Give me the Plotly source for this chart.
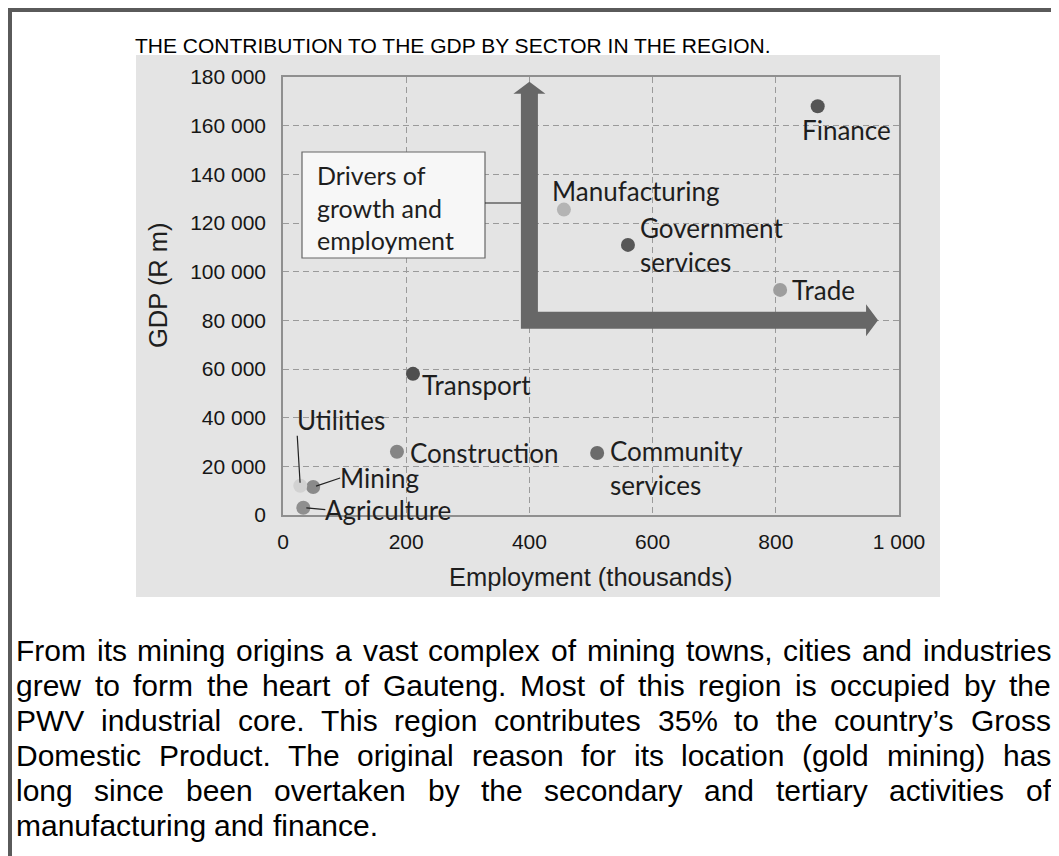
import plotly.graph_objects as go

# ---- data ----
sectors = ["Finance", "Manufacturing", "Government services", "Trade", "Transport",
           "Construction", "Community services", "Mining", "Utilities", "Agriculture"]
employment = [868, 456, 560, 807, 211, 185, 510, 49, 28, 33]          # thousands
gdp = [168000, 125500, 111000, 92500, 58000, 26000, 25500, 11500, 12000, 3000]  # R m
dot_colors = ["#555555", "#b4b4b4", "#575757", "#9d9d9d", "#4f4f4f",
              "#858585", "#6b6b6b", "#8a8a8a", "#d2d2d2", "#8f8f8f"]

x_ticks = [0, 200, 400, 600, 800, 1000]
y_ticks = [0, 20000, 40000, 60000, 80000, 100000, 120000, 140000, 160000, 180000]

title_text = "THE CONTRIBUTION TO THE GDP BY SECTOR IN THE REGION."
callout_text = "Drivers of<br>growth and<br>employment"
paragraph = [
    "From its mining origins a vast complex of mining towns, cities and industries",
    "grew to form the heart of Gauteng. Most of this region is occupied by the",
    "PWV industrial core. This region contributes 35% to the country’s Gross",
    "Domestic Product. The original reason for its location (gold mining) has",
    "long since been overtaken by the secondary and tertiary activities of",
    "manufacturing and finance.",
]

# ---- page geometry (pixels of the 1059x856 page) ----
W, H = 1059, 856
BODY = 8                       # default page margin around the plotly div
PL, PR, PT, PB = 283, 899, 77, 515
X_RANGE = [0, 1000]
Y_RANGE = [0, 180000]
DX = (X_RANGE[1] - X_RANGE[0]) / (PR - PL)   # data units per px
DY = (Y_RANGE[1] - Y_RANGE[0]) / (PB - PT)

ARIAL = "Liberation Sans, Arial, sans-serif"
LATO = "Lato, Noto Sans, sans-serif"
LABEL_FONT = dict(family=LATO, size=26, color="#1e1e1e")


def paper_x(px):
    return (px - PL) / (PR - PL)


def paper_y(py):
    return (PB - py) / (PB - PT)


# Arial advance widths (per 1000 em), used to justify the paragraph
CHAR_W = {}
for w, chars in [(222, "ijl’"), (278, " ,.tfI"), (333, "()-r"), (500, "cksvxyzJ"),
                 (556, "abdeghnopqu0123456789L"), (611, "FTZ"), (667, "ABEKPSVXY"),
                 (722, "CDHNRUw"), (778, "GOQ"), (833, "mM"), (889, "%"), (944, "W")]:
    for ch in chars:
        CHAR_W[ch] = w


def text_w(s, size):
    return sum(CHAR_W.get(c, 556) for c in s) * size / 1000


fig = go.Figure()

fig.add_trace(go.Scatter(
    x=employment, y=gdp, mode="markers",
    marker=dict(size=14, color=dot_colors, line=dict(width=0)),
    text=sectors, hoverinfo="text", showlegend=False,
))

annotations = []

# point labels
label_text = {"Government services": "Government<br>services",
              "Community services": "Community<br>services"}
label_pos = {
    "Finance": dict(xshift=-16, yshift=-24),
    "Manufacturing": dict(xshift=-12, yshift=19),
    "Government services": dict(xshift=12, yshift=0),
    "Trade": dict(xshift=12, yshift=0),
    "Transport": dict(xshift=9, yshift=-11),
    "Construction": dict(xshift=13, yshift=-1),
    "Community services": dict(xshift=13, yshift=-15),
}
leaders = {
    "Mining": dict(ax=27, ay=-9, yanchor="middle"),
    "Agriculture": dict(ax=22, ay=2, yanchor="middle"),
    "Utilities": dict(ax=-3, ay=-50, yanchor="bottom"),
}
for name, xv, yv in zip(sectors, employment, gdp):
    txt = label_text.get(name, name)
    if name in label_pos:
        annotations.append(dict(x=xv, y=yv, xref="x", yref="y", text=txt, showarrow=False,
                                xanchor="left", yanchor="middle", align="left",
                                borderpad=0, borderwidth=0,
                                font=LABEL_FONT, **label_pos[name]))
    else:
        annotations.append(dict(x=xv, y=yv, xref="x", yref="y", text=txt, showarrow=True,
                                arrowhead=0, arrowwidth=1.2, arrowcolor="#222",
                                standoff=3, xanchor="left", align="left",
                                borderpad=0, borderwidth=0,
                                font=LABEL_FONT, **leaders[name]))

# callout text (box and leader drawn as shapes below)
annotations.append(dict(x=paper_x(317), y=paper_y(207), xref="paper", yref="paper",
                        text=callout_text, showarrow=False, xanchor="left", yanchor="middle",
                        align="left", borderpad=0, borderwidth=0,
                        font=dict(family=LATO, size=25, color="#1e1e1e")))

# axis titles
annotations.append(dict(x=paper_x(590), y=paper_y(577), xref="paper", yref="paper",
                        text="Employment (thousands)", showarrow=False,
                        xanchor="center", yanchor="middle",
                        font=dict(family=ARIAL, size=25.5, color="#1e1e1e")))
annotations.append(dict(x=paper_x(158), y=paper_y(285), xref="paper", yref="paper",
                        text="GDP (R m)", textangle=-90, showarrow=False,
                        xanchor="center", yanchor="middle",
                        font=dict(family=ARIAL, size=25.5, color="#1e1e1e")))

# page title
annotations.append(dict(x=paper_x(453), y=paper_y(45), xref="paper", yref="paper",
                        text=title_text, showarrow=False, xanchor="center", yanchor="middle",
                        font=dict(family=ARIAL, size=21, color="#000")))

# justified paragraph below the chart
P_SIZE, P_LEFT, P_RIGHT = 30, 16, 1051
for i, line in enumerate(paragraph):
    cy = 650 + 35 * i
    words = line.split(" ")
    if i < len(paragraph) - 1:
        used = sum(text_w(wd, P_SIZE) for wd in words)
        gap = (P_RIGHT - P_LEFT - used) / (len(words) - 1)
    else:
        gap = text_w(" ", P_SIZE)
    xpos = P_LEFT
    for wd in words:
        annotations.append(dict(x=paper_x(xpos), y=paper_y(cy), xref="paper", yref="paper",
                                text=wd, showarrow=False, xanchor="left", yanchor="middle",
                                borderpad=0, borderwidth=0,
                                font=dict(family=ARIAL, size=P_SIZE, color="#000")))
        xpos += text_w(wd, P_SIZE) + gap

# ---- shapes ----
shapes = []
# grey chart panel
shapes.append(dict(type="rect", xref="paper", yref="paper", layer="below",
                   x0=paper_x(136), x1=paper_x(940), y0=paper_y(597), y1=paper_y(55),
                   fillcolor="#e4e4e4", line=dict(width=0)))
# page frame (top and left rules)
shapes.append(dict(type="line", xref="paper", yref="paper", x0=paper_x(8), x1=paper_x(W),
                   y0=paper_y(10), y1=paper_y(10), line=dict(color="#5a5a5a", width=4)))
shapes.append(dict(type="line", xref="paper", yref="paper", x0=paper_x(10), x1=paper_x(10),
                   y0=paper_y(8), y1=paper_y(H), line=dict(color="#5a5a5a", width=4)))

# thick L-shaped "drivers" arrow
cx, cy = 400, 80000          # corner
tip_x, tip_y = 966, 178000   # arrow tips
hw, hh, hl = 8.5, 16, 12     # half width, half head, head length (px)
pts = [
    (cx - hw * DX, cy - hw * DY),
    (tip_x - hl * DX, cy - hw * DY),
    (tip_x - hl * DX, cy - hh * DY),
    (tip_x, cy),
    (tip_x - hl * DX, cy + hh * DY),
    (tip_x - hl * DX, cy + hw * DY),
    (cx + hw * DX, cy + hw * DY),
    (cx + hw * DX, tip_y - hl * DY),
    (cx + hh * DX, tip_y - hl * DY),
    (cx, tip_y),
    (cx - hh * DX, tip_y - hl * DY),
    (cx - hw * DX, tip_y - hl * DY),
]
path = "M " + " L ".join(f"{x:.2f},{y:.1f}" for x, y in pts) + " Z"
shapes.append(dict(type="path", xref="x", yref="y", path=path, layer="between",
                   fillcolor="#676767", line=dict(width=0)))

# callout box and its leader to the arrow
shapes.append(dict(type="rect", xref="paper", yref="paper", layer="above",
                   x0=paper_x(302), x1=paper_x(485), y0=paper_y(258), y1=paper_y(152),
                   fillcolor="#f7f7f7", line=dict(color="#666", width=1.2)))
shapes.append(dict(type="line", xref="paper", yref="paper", layer="above",
                   x0=paper_x(485), x1=paper_x(521), y0=paper_y(203), y1=paper_y(203),
                   line=dict(color="#222", width=1.2)))

fig.update_layout(
    width=W - BODY, height=H - BODY,
    margin=dict(l=PL - BODY, r=W - PR, t=PT - BODY, b=H - PB, pad=0),
    paper_bgcolor="white",
    plot_bgcolor="rgba(0,0,0,0)",
    separators=". ",
    showlegend=False,
    annotations=annotations,
    shapes=shapes,
)
axis_common = dict(showline=True, mirror=True, linecolor="#8f8f8f", linewidth=1.5,
                   showgrid=True, gridcolor="#9a9a9a", gridwidth=1, griddash="6px,4px",
                   zeroline=False, ticks="", tickformat=",d",
                   tickfont=dict(family=ARIAL, size=21, color="#161616"))
fig.update_xaxes(range=X_RANGE, tickvals=x_ticks, ticklabelstandoff=7, **axis_common)
fig.update_yaxes(range=Y_RANGE, tickvals=y_ticks, ticklabelstandoff=11, **axis_common)

fig.write_html("out.html")
